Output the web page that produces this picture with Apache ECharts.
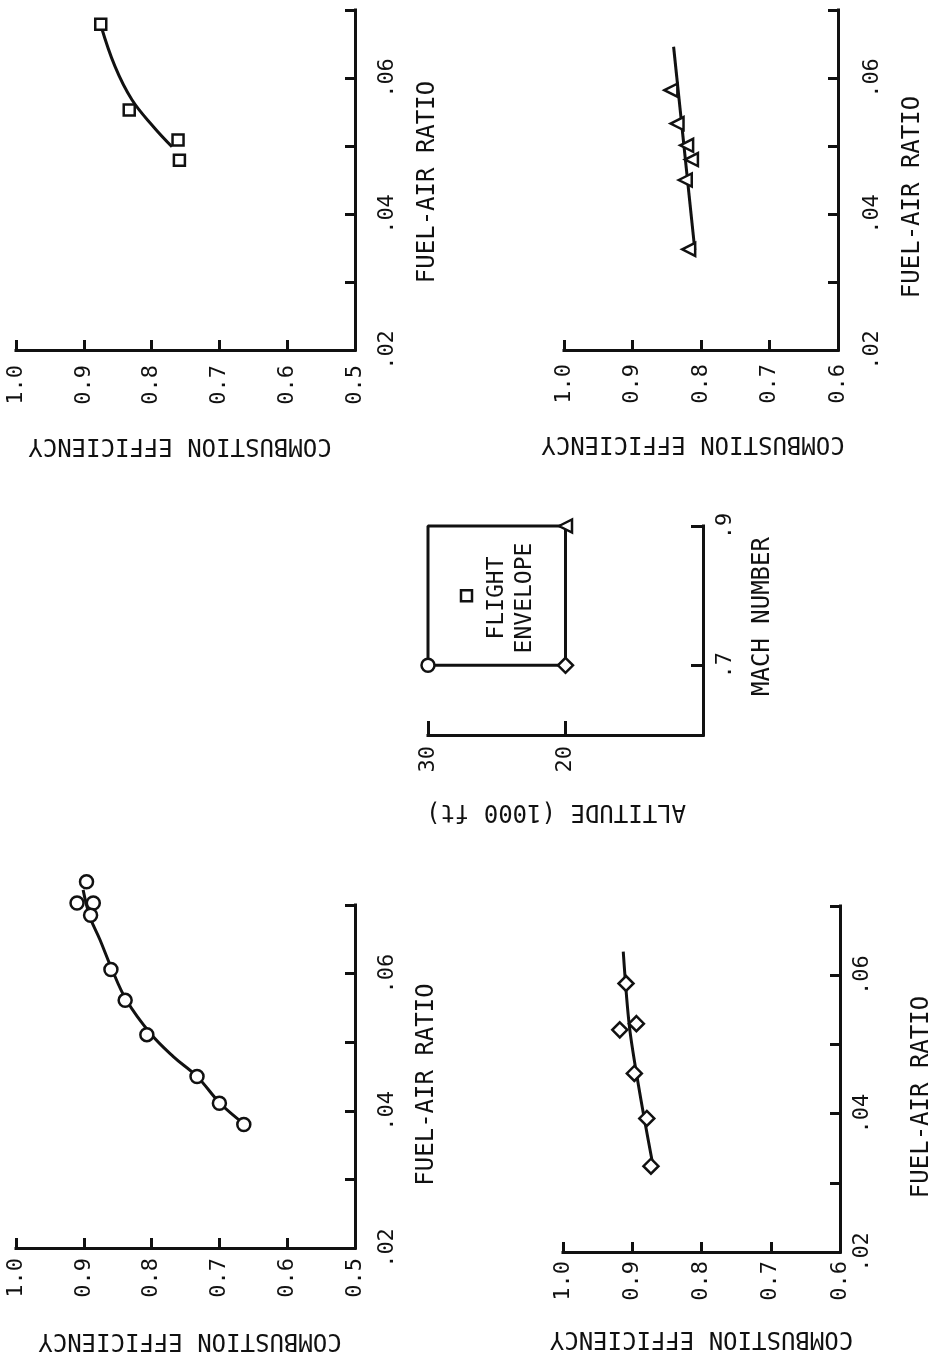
<!DOCTYPE html>
<html>
<head>
<meta charset="utf-8">
<script src="https://cdn.jsdelivr.net/npm/echarts@6/dist/echarts.min.js"></script>
<style>
  html, body { margin: 0; padding: 0; background: #fff; }
  #chart { width: 933px; height: 1355px; }
</style>
</head>
<body>
<div id="chart"></div>
<script>
// Combustion efficiency vs fuel-air ratio, one panel per flight condition.
// Pairs are [combustion efficiency, fuel-air ratio].

// Square symbols
const squarePoints = [[0.875, 0.0679], [0.833, 0.0553], [0.761, 0.0509], [0.759, 0.0479]];
const squareCurve  = [[0.875, 0.0678], [0.854, 0.0617], [0.829, 0.0568], [0.797, 0.0528], [0.770, 0.0499]];

// Triangle symbols
const trianglePoints = [[0.844, 0.0582], [0.835, 0.0533], [0.821, 0.0501], [0.814, 0.0480], [0.823, 0.0450], [0.818, 0.0348]];
const triangleLine   = [[0.840, 0.0646], [0.809, 0.0347]];

// Circle symbols
const circlePoints = [[0.896, 0.0734], [0.910, 0.0703], [0.886, 0.0703], [0.890, 0.0685], [0.860, 0.0606],
                      [0.839, 0.0561], [0.807, 0.0511], [0.733, 0.0450], [0.700, 0.0411], [0.664, 0.0380]];
const circleCurve  = [[0.901, 0.0722], [0.891, 0.0683], [0.876, 0.0649], [0.860, 0.0610], [0.837, 0.0561],
                      [0.802, 0.0513], [0.768, 0.0479], [0.733, 0.0450], [0.699, 0.0411], [0.665, 0.0382]];

// Diamond symbols
const diamondPoints = [[0.909, 0.0588], [0.918, 0.0521], [0.894, 0.0530], [0.897, 0.0458], [0.879, 0.0393], [0.873, 0.0324]];
const diamondLine   = [[0.913, 0.0634], [0.904, 0.0525], [0.889, 0.0429], [0.871, 0.0330]];

// Flight envelope: [altitude (1000 ft), Mach number]
const envelopeBox      = [[30, 0.7], [30, 0.9], [20, 0.9], [20, 0.7], [30, 0.7]];
const envelopeSquare   = [[27.2, 0.80]];
const envelopeCircle   = [[30, 0.7]];
const envelopeDiamond  = [[20, 0.7]];
const envelopeTriangle = [[20, 0.9]];

// Tick values and their labels
const effTicksLow  = [1.0, 0.9, 0.8, 0.7, 0.6, 0.5];
const effLabelsLow = ['1.0', '0.9', '0.8', '0.7', '0.6', '0.5'];
const effTicksHigh  = [1.0, 0.9, 0.8, 0.7, 0.6];
const effLabelsHigh = ['1.0', '0.9', '0.8', '0.7', '0.6'];
const farTicks      = [0.02, 0.03, 0.04, 0.05, 0.06, 0.07];
const farLabelTicks = [0.02, 0.04, 0.06];
const farLabels     = ['.02', '.04', '.06'];
const altTicks  = [20, 30];
const altLabels = ['20', '30'];
const machTicks  = [0.7, 0.9];
const machLabels = ['.7', '.9'];

const FONT = 'DejaVu Sans Mono';
const INK = '#111';

function lookup(values, texts) {
  return function (v) {
    const i = values.findIndex(t => Math.abs(t - v) < 1e-6);
    return i >= 0 ? texts[i] : '';
  };
}

function lineStyle() {
  return { color: INK, width: 3, cap: 'square' };
}

function effAxis(gridIndex, min, ticks, labels, opts) {
  return {
    type: 'value', gridIndex, min, max: 1.0, inverse: true, position: 'bottom',
    name: 'COMBUSTION EFFICIENCY', nameLocation: 'middle', nameRotate: 180, nameGap: opts.nameGap,
    nameTextStyle: { fontFamily: FONT, fontSize: 24, color: INK, padding: opts.namePad },
    axisLine: { show: true, onZero: false, lineStyle: lineStyle() },
    axisTick: { show: true, inside: true, length: 10, customValues: ticks, lineStyle: { color: INK, width: 3 } },
    axisLabel: { show: true, rotate: 90, margin: opts.labelMargin, fontFamily: FONT, fontSize: 22, color: INK,
                 customValues: ticks, formatter: lookup(ticks, labels) },
    splitLine: { show: false }
  };
}

function farAxis(gridIndex, opts) {
  return {
    type: 'value', gridIndex, min: 0.02, max: 0.07, position: 'right',
    name: 'FUEL-AIR RATIO', nameLocation: 'middle', nameRotate: 90, nameGap: opts.nameGap,
    nameTextStyle: { fontFamily: FONT, fontSize: 24, color: INK, padding: opts.namePad },
    axisLine: { show: true, onZero: false, lineStyle: lineStyle() },
    axisTick: { show: true, inside: true, length: 10, customValues: farTicks, lineStyle: { color: INK, width: 3 } },
    axisLabel: { show: true, rotate: 90, margin: opts.labelMargin, fontFamily: FONT, fontSize: 22, color: INK,
                 customValues: farLabelTicks, formatter: lookup(farLabelTicks, farLabels) },
    splitLine: { show: false }
  };
}

function curve(idx, data, smooth) {
  return { type: 'line', xAxisIndex: idx, yAxisIndex: idx, data, smooth, symbol: 'none', showSymbol: false,
           clip: false, silent: true, lineStyle: { color: INK, width: 3 }, z: 2 };
}

function marks(idx, data, symbol, size, rotate) {
  return { type: 'scatter', xAxisIndex: idx, yAxisIndex: idx, data, symbol, symbolSize: size,
           symbolRotate: rotate || 0, clip: false, silent: true,
           itemStyle: { color: '#fff', borderColor: INK, borderWidth: 2.5, opacity: 1 }, z: 3 };
}

const chart = echarts.init(document.getElementById('chart'), null, { renderer: 'canvas' });

chart.setOption({
  animation: false,
  backgroundColor: '#fff',
  grid: [
    { left: 16,  top: 10,  width: 339, height: 340, outerBoundsMode: 'none' },
    { left: 564, top: 10,  width: 274, height: 340, outerBoundsMode: 'none' },
    { left: 16,  top: 905, width: 339, height: 343, outerBoundsMode: 'none' },
    { left: 563, top: 906, width: 277, height: 346, outerBoundsMode: 'none' },
    { left: 428, top: 526, width: 275, height: 209, outerBoundsMode: 'none' }
  ],
  xAxis: [
    effAxis(0, 0.5, effTicksLow,  effLabelsLow,  { nameGap: 83, namePad: [0, 0, 0, 11], labelMargin: 15 }),
    effAxis(1, 0.6, effTicksHigh, effLabelsHigh, { nameGap: 81, namePad: [0, 0, 0, 16], labelMargin: 14 }),
    effAxis(2, 0.5, effTicksLow,  effLabelsLow,  { nameGap: 80, namePad: [0, 9, 0, 0],  labelMargin: 10 }),
    effAxis(3, 0.6, effTicksHigh, effLabelsHigh, { nameGap: 74, namePad: [0, 0, 0, 0],  labelMargin: 9 }),
    {
      type: 'value', gridIndex: 4, min: 10, max: 30, inverse: true, position: 'bottom',
      name: 'ALTITUDE (1000 ft)', nameLocation: 'middle', nameRotate: 180, nameGap: 64,
      nameTextStyle: { fontFamily: FONT, fontSize: 24, color: INK, padding: [0, 0, 0, 19] },
      axisLine: { show: true, onZero: false, lineStyle: lineStyle() },
      axisTick: { show: true, inside: true, length: 14, customValues: altTicks, lineStyle: { color: INK, width: 3 } },
      axisLabel: { show: true, rotate: 90, margin: 11, fontFamily: FONT, fontSize: 22, color: INK,
                   customValues: altTicks, formatter: lookup(altTicks, altLabels) },
      splitLine: { show: false }
    }
  ],
  yAxis: [
    farAxis(0, { nameGap: 61, namePad: [0, 4, 0, 0],  labelMargin: 21 }),
    farAxis(1, { nameGap: 63, namePad: [0, 34, 0, 0], labelMargin: 23 }),
    farAxis(2, { nameGap: 60, namePad: [0, 16, 0, 0], labelMargin: 21 }),
    farAxis(3, { nameGap: 70, namePad: [0, 36, 0, 0], labelMargin: 11 }),
    {
      type: 'value', gridIndex: 4, min: 0.6, max: 0.9, position: 'right',
      name: 'MACH NUMBER', nameLocation: 'middle', nameRotate: 90, nameGap: 48,
      nameTextStyle: { fontFamily: FONT, fontSize: 24, color: INK, padding: [0, 0, 0, 28] },
      axisLine: { show: true, onZero: false, lineStyle: lineStyle() },
      axisTick: { show: true, inside: true, length: 12, customValues: machTicks, lineStyle: { color: INK, width: 3 } },
      axisLabel: { show: true, rotate: 90, margin: 11, fontFamily: FONT, fontSize: 22, color: INK,
                   customValues: machTicks, formatter: lookup(machTicks, machLabels) },
      splitLine: { show: false }
    }
  ],
  graphic: [
    {
      type: 'text', x: 511, y: 598, rotation: Math.PI / 2, silent: true,
      style: { text: 'FLIGHT\nENVELOPE', fontFamily: FONT, fontSize: 23, fill: INK,
               align: 'center', verticalAlign: 'middle', lineHeight: 28 }
    }
  ],
  series: [
    curve(0, squareCurve, 0.4),
    marks(0, squarePoints, 'rect', 11),
    curve(1, triangleLine, false),
    marks(1, trianglePoints, 'triangle', 13, 90),
    curve(2, circleCurve, 0.4),
    marks(2, circlePoints, 'circle', 13),
    curve(3, diamondLine, 0.3),
    marks(3, diamondPoints, 'diamond', 15),
    curve(4, envelopeBox, false),
    marks(4, envelopeSquare, 'rect', 11),
    marks(4, envelopeCircle, 'circle', 13),
    marks(4, envelopeDiamond, 'diamond', 15),
    marks(4, envelopeTriangle, 'triangle', 13, 90)
  ]
});
</script>
</body>
</html>
